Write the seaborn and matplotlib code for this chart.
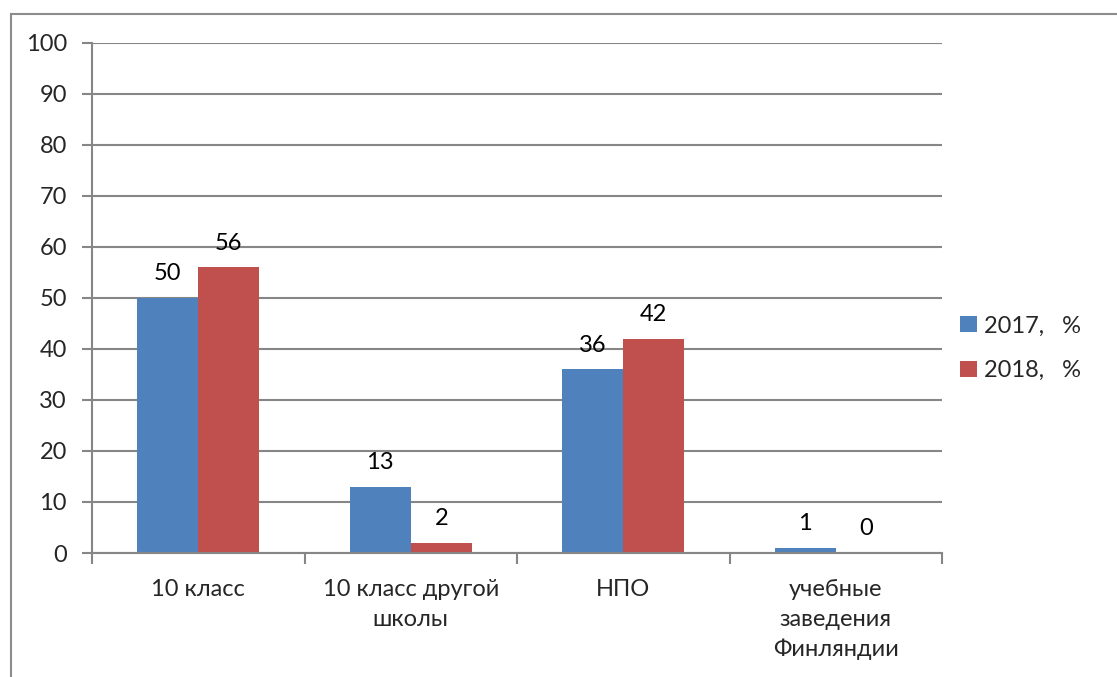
import matplotlib
matplotlib.use("Agg")
import matplotlib.pyplot as plt
import seaborn as sns
import pandas as pd
import numpy as np
from matplotlib.patches import Rectangle, Patch

categories = ["10 класс", "10 класс другой\nшколы", "НПО", "учебные\nзаведения\nФинляндии"]
series_names = ["2017,   %", "2018,   %"]
values_2017 = [50, 13, 36, 1]
values_2018 = [56, 2, 42, 0]
colors = ["#4F81BD", "#C0504D"]

df = pd.DataFrame({
    "cat": categories * 2,
    "series": [series_names[0]] * 4 + [series_names[1]] * 4,
    "val": values_2017 + values_2018,
})

sns.set_theme(style="white")
plt.rcParams['font.family'] = ['Lato', 'DejaVu Sans']
FS = 17

fig = plt.figure(figsize=(11.17, 6.77), dpi=100)
ax = fig.add_axes([92/1117, 1-553/677, 850/1117, 510/677])

sns.barplot(data=df, x="cat", y="val", hue="series", palette=colors,
            width=0.575, saturation=1, ax=ax, legend=False, edgecolor="none")

ax.set_ylim(0, 100)
ax.set_xlim(-0.5, 3.5)
ax.set_yticks(np.arange(0, 101, 10))
ax.yaxis.grid(True, color="#868686", linewidth=1.5)
ax.set_axisbelow(True)
ax.set_xlabel("")
ax.set_ylabel("")
for s in ["top", "right"]:
    ax.spines[s].set_visible(False)
for s in ["left", "bottom"]:
    ax.spines[s].set_color("#868686")
    ax.spines[s].set_linewidth(1.5)

ax.tick_params(axis="y", length=7, width=1.5, color="#868686", labelsize=FS, pad=11, left=True)
ax.tick_params(axis="x", which="major", length=0, labelsize=FS, pad=19)
ax.set_xticks(np.arange(-0.5, 4.0, 1.0), minor=True)
ax.tick_params(axis="x", which="minor", length=8, width=1.5, color="#868686", bottom=True)
for lab in ax.get_xticklabels():
    lab.set_linespacing(1.5)

for cont in ax.containers:
    ax.bar_label(cont, fmt="%g", padding=10, fontsize=FS, color="black")

handles = [Patch(facecolor=c, edgecolor="none") for c in colors]
fig.legend(handles, series_names, loc="upper left", bbox_to_anchor=(951/1117, 1-306/677),
           frameon=False, fontsize=FS, handlelength=0.7, handleheight=0.7,
           handletextpad=0.3, labelspacing=1.0, borderaxespad=0)

fig.patches.append(Rectangle((11/1117, -0.1), 1.2, 1 - 14/677 + 0.1, transform=fig.transFigure,
                             fill=False, edgecolor="#8c8c8c", linewidth=1.5, zorder=-1))

fig.savefig("out.png", dpi=100)
